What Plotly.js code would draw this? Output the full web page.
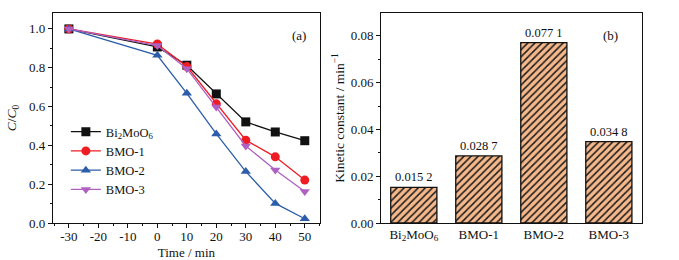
<!DOCTYPE html>
<html>
<head>
<meta charset="utf-8">
<script src="https://cdn.plot.ly/plotly-3.0.1.min.js"></script>
<style>html,body{margin:0;padding:0;background:#fff;}#chart{width:679px;height:260px;}</style>
</head>
<body>
<div id="chart"></div>
<script>
// Panel (a): C/C0 vs time
const time = [-30, 0, 10, 20, 30, 40, 50];
const timeTicks = [-30, -20, -10, 0, 10, 20, 30, 40, 50];
const timeTickLabels = ['-30', '-20', '-10', '0', '10', '20', '30', '40', '50'];
const seriesNames = ['Bi<sub>2</sub>MoO<sub>6</sub>', 'BMO-1', 'BMO-2', 'BMO-3'];
const bi2moo6 = [1.0, 0.907, 0.813, 0.665, 0.521, 0.469, 0.424];
const bmo1 = [1.0, 0.922, 0.806, 0.614, 0.427, 0.341, 0.221];
const bmo2 = [1.0, 0.864, 0.668, 0.459, 0.265, 0.101, 0.022];
const bmo3 = [1.0, 0.914, 0.795, 0.598, 0.397, 0.273, 0.162];

// Panel (b): kinetic constants
const catLabels = ['Bi<sub>2</sub>MoO<sub>6</sub>', 'BMO-1', 'BMO-2', 'BMO-3'];
const kValues = [0.0152, 0.0287, 0.0771, 0.0348];
const kLabels = ['0.015 2', '0.028 7', '0.077 1', '0.034 8'];

const FONT = 'Liberation Serif, Times New Roman, serif';
const colors = ['#111111', '#EE1D23', '#2C5DAA', '#B060C0'];
const symbols = ['square', 'circle', 'triangle-up', 'triangle-down'];
const lineData = [bi2moo6, bmo1, bmo2, bmo3];

const traces = lineData.map((ys, i) => ({
  type: 'scatter', mode: 'lines+markers',
  x: time, y: ys, name: seriesNames[i],
  line: {color: colors[i], width: 1.3},
  marker: {color: colors[i], symbol: symbols[i], size: 9},
  xaxis: 'x', yaxis: 'y', cliponaxis: false
}));

const catIdx = kValues.map((_, i) => i);
traces.push({
  type: 'bar', x: catIdx, y: kValues, text: kLabels,
  textposition: 'outside', texttemplate: '%{text}',
  textfont: {family: FONT, size: 12.5, color: '#111'},
  width: 0.71, showlegend: false, cliponaxis: false,
  marker: {color: '#F5B88B', line: {color: '#111', width: 1.3},
    pattern: {shape: '/', bgcolor: '#F5B88B', fgcolor: '#1a1a1a', size: 5, solidity: 0.3, fillmode: 'replace'}},
  xaxis: 'x2', yaxis: 'y2'
});

const axBase = {
  showline: true, linecolor: '#111', linewidth: 1, mirror: true,
  ticks: 'outside', ticklen: 4, tickwidth: 1, tickcolor: '#111',
  showgrid: false, zeroline: false, automargin: false,
  tickfont: {family: FONT, size: 13, color: '#111'}
};

const layout = {
  width: 679, height: 260,
  margin: {l: 0, r: 0, t: 0, b: 0},
  paper_bgcolor: '#fff', plot_bgcolor: '#fff',
  font: {family: FONT, color: '#111'},
  showlegend: true,
  legend: {x: 0.097, y: 0.55, xanchor: 'left', yanchor: 'top', bgcolor: 'rgba(0,0,0,0)',
    font: {family: FONT, size: 12.5, color: '#111'}, itemwidth: 30, tracegroupgap: 0},
  xaxis: Object.assign({}, axBase, {
    anchor: 'y', domain: [0.078, 0.471], range: [-35.4, 55.1],
    tickmode: 'array', tickvals: timeTicks, ticktext: timeTickLabels, ticklabelstandoff: -3,
    minor: {dtick: 5, tick0: 0, ticks: 'outside', ticklen: 2, tickcolor: '#111'},
    title: {text: 'Time / min', font: {family: FONT, size: 13}}
  }),
  yaxis: Object.assign({}, axBase, {
    anchor: 'x', domain: [0.1423, 0.95], range: [0, 1.082], dtick: 0.2, tickformat: '.1f',
    minor: {dtick: 0.1, ticks: 'outside', ticklen: 2, tickcolor: '#111'},
    title: {text: '<i>C</i>/<i>C</i><sub>0</sub>', font: {family: FONT, size: 13.5}}
  }),
  xaxis2: Object.assign({}, axBase, {
    anchor: 'y2', domain: [0.5611, 0.9455], range: [-0.505, 3.51], ticks: '',
    tickmode: 'array', tickvals: catIdx, ticktext: catLabels, ticklabelstandoff: -1
  }),
  yaxis2: Object.assign({}, axBase, {
    anchor: 'x2', domain: [0.1423, 0.95], range: [0, 0.0898], dtick: 0.02, tickformat: '.2f',
    minor: {dtick: 0.01, ticks: 'outside', ticklen: 2, tickcolor: '#111'},
    title: {text: 'Kinetic constant / min<sup>\u22121</sup>', font: {family: FONT, size: 13.5}}
  }),
  annotations: [
    {text: '(a)', xref: 'paper', yref: 'paper', x: 299 / 679, y: (260 - 26) / 260, showarrow: false,
      font: {family: FONT, size: 13, color: '#111'}},
    {text: '(b)', xref: 'paper', yref: 'paper', x: 620 / 679, y: (260 - 26) / 260, showarrow: false,
      font: {family: FONT, size: 13, color: '#111'}}
  ]
};

Plotly.newPlot('chart', traces, layout, {displayModeBar: false, staticPlot: true});
</script>
</body>
</html>
